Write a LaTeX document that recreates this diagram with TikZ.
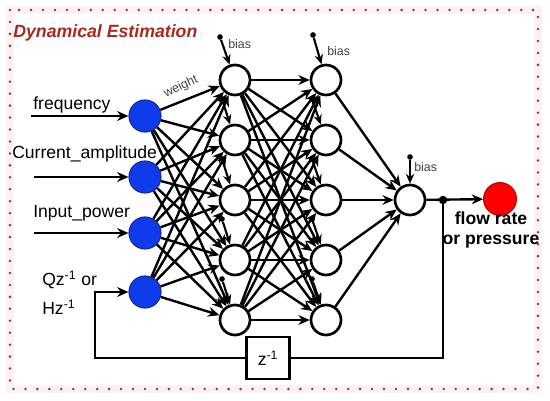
\documentclass[tikz,border=0pt]{standalone}
\usepackage{fontspec}
\setmainfont{Liberation Sans}
\usetikzlibrary{arrows.meta,positioning,calc}
\definecolor{titlered}{RGB}{170,40,30}
\definecolor{inblue}{RGB}{15,60,235}
\definecolor{inedge}{RGB}{20,40,160}
\definecolor{dotbrown}{RGB}{115,75,40}
\definecolor{framepink}{RGB}{254,240,245}

\begin{document}
\begin{tikzpicture}[
    x=0.025cm, y=-0.025cm,
    font=\fontsize{12.5}{14}\selectfont,
    neuron/.style={circle, draw, line width=1.9pt, minimum size=0.75cm, inner sep=0pt, fill=white},
    innode/.style={circle, draw=inedge, line width=0.8pt, fill=inblue, minimum size=0.8cm, inner sep=0pt},
    outnode/.style={circle, draw=red!75!black, line width=0.8pt, fill=red, minimum size=0.82cm, inner sep=0pt},
    label/.style={inner sep=0pt, anchor=west},
    biaslabel/.style={inner sep=0pt, text=black!75, font=\fontsize{8.8}{10}\selectfont},
    biasdot/.style={circle, fill, inner sep=0pt, minimum size=4pt},
    zbox/.style={rectangle, draw, line width=1.7pt, minimum width=1.075cm, minimum height=1.05cm, inner sep=0pt},
    arrow/.style={-{Stealth[length=8pt,width=7pt]}, line width=1.7pt},
    biasarrow/.style={-{Stealth[length=7pt,width=6pt]}, line width=1.5pt}
  ]
    \useasboundingbox (0,0) rectangle (550,400);
    \draw[framepink, line width=5pt] (10,10) rectangle (538,389);
    \draw[dotbrown, line width=2pt, line cap=round, dash pattern=on 0pt off 8.5pt] (10,10) rectangle (538,389);

    \node[label, text=titlered, font=\fontsize{12.6}{14}\selectfont\bfseries\itshape] (title) at (13,33) {Dynamical Estimation};

    \foreach \i/\y in {1/116, 2/177, 3/233, 4/292}
      \node[innode] (in\i) at (145,\y) {};
    \foreach \j/\y in {1/80, 2/140, 3/200, 4/260, 5/320} {
      \node[neuron] (a\j) at (235,\y) {};
      \node[neuron] (b\j) at (326,\y) {};
    }
    \node[neuron] (out) at (410,200) {};
    \node[outnode] (res) at (500,199) {};

    \node[label] (lfreq) at (33,105) {frequency};
    \node[label] (lcur) at (12,154) {Current\_amplitude};
    \node[label] (lpow) at (33,213) {Input\_power};
    \node[label] (lq) at (42,280) {Qz\textsuperscript{-1} or};
    \node[label] (lh) at (42,307) {Hz\textsuperscript{-1}};
    \node[font=\fontsize{12.5}{14}\selectfont\bfseries, align=center, inner sep=0pt] (lres) at (491,230) {flow rate\\or pressure};

    \coordinate (s1) at (31,116);
    \coordinate (s2) at (34,177);
    \coordinate (s3) at (34,233);
    \foreach \i in {1,2,3}
      \draw[arrow] (s\i) -- (in\i);

    \foreach \i in {1,...,4}
      \foreach \j in {1,...,5}
        \draw[arrow] (in\i) -- (a\j);
    \foreach \i in {1,...,5}
      \foreach \j in {1,...,5}
        \draw[arrow] (a\i) -- (b\j);
    \foreach \j in {1,...,5}
      \draw[arrow] (b\j) -- (out);

    \node[biaslabel, rotate=25] (wlab) at (181,87) {weight};

    \node[biasdot] (da0) at (220,37) {};
    \node[biasdot] (db0) at (313,35) {};
    \draw[biasarrow] (da0) -- (a1);
    \draw[biasarrow] (db0) -- (b1);
    \node[biaslabel, anchor=west] (bla) at (228,44) {bias};
    \node[biaslabel, anchor=west] (blb) at (327,51) {bias};
    \foreach \j/\y [evaluate=\j as \k using int(\j+1)] in {1/80, 2/140, 3/200, 4/260} {
      \node[biasdot] (da\j) at (222,\y+19) {};
      \node[biasdot] (db\j) at (312,\y+19) {};
      \draw[biasarrow] (da\j) -- (a\k);
      \draw[biasarrow] (db\j) -- (b\k);
    }
    \node[biasdot] (dout) at (410,157) {};
    \draw[biasarrow] (dout) -- (out);
    \node[biaslabel, anchor=west] (blo) at (414,167) {bias};

    \node[biasdot, minimum size=6pt] (jdot) at (443,200) {};
    \draw[arrow] (out) -- (res);

    \node[zbox] (zd) at (268,358) {z\textsuperscript{-1}};
    \coordinate (fb) at (95,358);
    \draw[line width=1.7pt] (jdot.center) |- (zd.east);
    \draw[arrow] (zd.west) -- (fb) |- (in4);
  \end{tikzpicture}
\end{document}
